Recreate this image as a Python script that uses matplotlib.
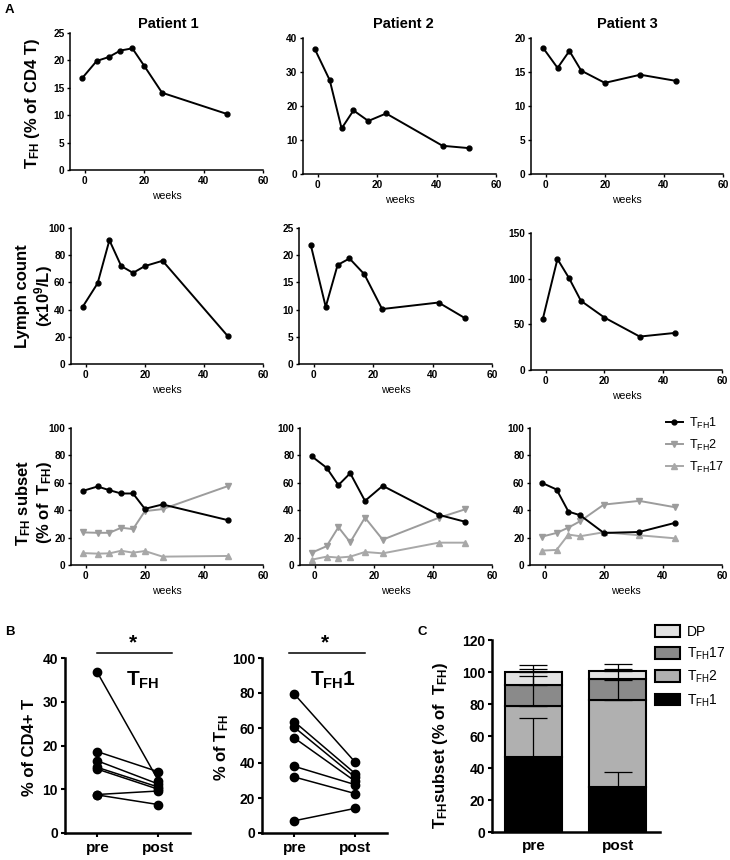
import matplotlib
matplotlib.use("Agg")
import matplotlib.pyplot as plt
import numpy as np

plt.rcParams['font.family'] = ['Liberation Sans', 'DejaVu Sans']
plt.rcParams['font.weight'] = 'bold'
plt.rcParams['mathtext.fontset'] = 'custom'
plt.rcParams['mathtext.rm'] = 'Liberation Sans:regular'
plt.rcParams['mathtext.bf'] = 'Liberation Sans:bold'
plt.rcParams['mathtext.it'] = 'Liberation Sans:italic'

# ---------------------------------------------------------------- data
P1_WEEKS = [-1, 4, 8, 12, 16, 20, 26, 48]
P2_WEEKS = [-1, 4, 8, 12, 17, 23, 42, 51]
P3_WEEKS = [-1, 4, 8, 12, 20, 32, 44]

P1_TFH = [16.7, 19.9, 20.6, 21.8, 22.2, 19.0, 14.1, 10.2]
P2_TFH = [36.7, 27.6, 13.4, 18.7, 15.6, 17.8, 8.3, 7.6]
P3_TFH = [18.6, 15.6, 18.1, 15.2, 13.4, 14.6, 13.7]

P1_LYMPH = [42.2, 59.3, 91.0, 72.0, 67.0, 72.0, 75.9, 20.7]
P2_LYMPH = [21.8, 10.5, 18.2, 19.4, 16.5, 10.1, 11.3, 8.4]
P3_LYMPH = [55.6, 121.5, 100.3, 75.7, 57.4, 36.6, 40.6]

P1_TFH1 = [54.1, 57.3, 54.6, 52.2, 52.2, 41.0, 44.2, 32.8]
P1_TFH2 = [23.8, 23.5, 23.5, 27.2, 26.2, 39.3, 40.8, 57.5]
P1_TFH17 = [8.7, 8.3, 8.5, 10.4, 9.0, 10.2, 6.1, 6.6]

P2_TFH1 = [79.3, 71.0, 58.3, 67.0, 46.8, 57.8, 36.6, 31.5]
P2_TFH2 = [9.0, 13.7, 27.6, 16.6, 34.6, 18.5, 34.5, 40.7]
P2_TFH17 = [3.9, 6.1, 5.4, 6.1, 9.5, 8.5, 16.3, 16.3]

P3_TFH1 = [60.0, 55.1, 39.0, 36.3, 23.4, 24.1, 30.7]
P3_TFH2 = [20.7, 23.4, 27.3, 32.0, 44.1, 46.8, 42.2]
P3_TFH17 = [10.5, 11.0, 22.2, 21.0, 23.9, 21.7, 19.5]

B_GROUPS = ['pre', 'post']
B_TFH_PRE = [36.7, 18.6, 16.5, 15.0, 14.6, 8.8, 8.7]
B_TFH_POST = [12.0, 14.0, 11.2, 10.5, 10.0, 9.6, 6.5]
B_TFH1_PRE = [79.4, 63.6, 60.4, 54.3, 38.1, 32.0, 7.0]
B_TFH1_POST = [40.4, 33.9, 31.8, 29.5, 27.6, 22.5, 14.1]

C_GROUPS = ['pre', 'post']
C_TFH1 = [47.0, 28.2]
C_TFH2 = [31.7, 54.3]
C_TFH17 = [13.3, 12.9]
C_DP = [8.0, 5.2]
C_TFH1_SD = [24.4, 9.0]
C_TFH2_SD = [19.0, 12.5]
C_TFH17_SD = [9.9, 6.5]
C_DP_SD = [4.2, 4.2]

W, H = 730, 860
fig = plt.figure(figsize=(W / 100, H / 100), dpi=100)
fig.patch.set_facecolor("white")


def px_axes(l, t, r, b):
    return fig.add_axes([l / W, 1 - b / H, (r - l) / W, (b - t) / H])


def style_time(ax, ymax, ystep):
    ax.set_xlim(-5, 60)
    ax.set_xticks([0, 20, 40, 60])
    ax.set_ylim(0, ymax)
    ax.set_yticks(np.arange(0, ymax + 0.1, ystep))
    for s in ('top', 'right'):
        ax.spines[s].set_visible(False)
    for s in ('left', 'bottom'):
        ax.spines[s].set_linewidth(1.1)
    ax.tick_params(labelsize=7.3, length=2.5, width=1.0, pad=1.5)
    ax.set_xlabel('weeks', fontsize=7.5, labelpad=4)


def line(ax, x, y, color='black', marker='o', ms=3.5, label=None):
    ax.plot(x, y, color=color, marker=marker, ms=ms, lw=1.4,
            mec=color, mfc=color, label=label, clip_on=False)


weeks = [P1_WEEKS, P2_WEEKS, P3_WEEKS]

# row 1 : TFH % of CD4 T
row1 = [px_axes(70, 33, 263, 170), px_axes(303, 38, 496, 174),
        px_axes(531, 38, 723, 174)]
for ax, x, y, ym, st in zip(row1, weeks, [P1_TFH, P2_TFH, P3_TFH],
                            [25, 40, 20], [5, 10, 5]):
    line(ax, x, y)
    style_time(ax, ym, st)

# row 2 : lymph count
row2 = [px_axes(71, 228, 263, 364), px_axes(299, 228, 492, 364),
        px_axes(531, 233, 722, 370)]
for ax, x, y, ym, st in zip(row2, weeks, [P1_LYMPH, P2_LYMPH, P3_LYMPH],
                            [100, 25, 150], [20, 5, 50]):
    line(ax, x, y)
    style_time(ax, ym, st)

# row 3 : subsets
row3 = [px_axes(71, 428, 263, 565), px_axes(300, 428, 492, 565),
        px_axes(530, 428, 722, 565)]
subsets = [(P1_TFH1, P1_TFH2, P1_TFH17), (P2_TFH1, P2_TFH2, P2_TFH17),
           (P3_TFH1, P3_TFH2, P3_TFH17)]
for ax, x, (s1, s2, s17) in zip(row3, weeks, subsets):
    line(ax, x, s2, color='#9c9c9c', marker='v', ms=4,
         label=r'$\mathrm{T_{FH}2}$')
    line(ax, x, s17, color='#a8a8a8', marker='^', ms=4,
         label=r'$\mathrm{T_{FH}17}$')
    line(ax, x, s1, color='black', marker='o', ms=3.5,
         label=r'$\mathrm{T_{FH}1}$')
    style_time(ax, 100, 20)

h, l = row3[2].get_legend_handles_labels()
row3[2].legend([h[2], h[0], h[1]], [l[2], l[0], l[1]], loc='upper left',
               bbox_to_anchor=(0.71, 1.09), frameon=False,
               prop={'size': 9, 'weight': 'normal'},
               handlelength=1.3, handletextpad=0.5, labelspacing=0.55,
               borderpad=0, borderaxespad=0)

for x, name in zip([168, 403, 627], ['Patient 1', 'Patient 2', 'Patient 3']):
    fig.text(x / W, 1 - 24 / H, name, ha='center', va='center', fontsize=10.5)

fig.text(33 / W, 1 - 104 / H, r'$\mathbf{T_{FH}}$ (% of CD4 T)', rotation=90,
         ha='center', va='center', fontsize=12)
fig.text(35 / W, 1 - 296 / H, 'Lymph count\n(x10$^\\mathbf{9}$/L)', rotation=90,
         ha='center', va='center', fontsize=12, linespacing=1.1)
fig.text(34 / W, 1 - 503 / H, 'T$_\\mathbf{FH}$ subset\n(% of  T$_\\mathbf{FH}$)',
         rotation=90, ha='center', va='center', fontsize=12, linespacing=1.1)

fig.text(5 / W, 1 - 10 / H, 'A', ha='left', va='center', fontsize=9.5)
fig.text(5 / W, 1 - 632 / H, 'B', ha='left', va='center', fontsize=9.5)
fig.text(417 / W, 1 - 632 / H, 'C', ha='left', va='center', fontsize=9.5)


# panel B : paired pre/post
def style_b(ax, ymax, ystep):
    ax.set_xlim(-0.53, 1.52)
    ax.set_xticks([0, 1])
    ax.set_xticklabels(B_GROUPS)
    ax.set_ylim(0, ymax)
    ax.set_yticks(np.arange(0, ymax + 0.1, ystep))
    for s in ('top', 'right'):
        ax.spines[s].set_visible(False)
    for s in ('left', 'bottom'):
        ax.spines[s].set_linewidth(1.8)
    ax.tick_params(axis='y', labelsize=10, length=3, width=1.5, pad=2)
    ax.tick_params(axis='x', labelsize=11, length=3, width=1.5, pad=3)


b1 = px_axes(65, 658, 190, 833)
b2 = px_axes(262, 658, 387, 833)
for ax, pre, post in [(b1, B_TFH_PRE, B_TFH_POST), (b2, B_TFH1_PRE, B_TFH1_POST)]:
    for a, b in zip(pre, post):
        ax.plot([0, 1], [a, b], color='black', lw=1.1, marker='o', ms=6,
                clip_on=False)
style_b(b1, 40, 10)
style_b(b2, 100, 20)

for ax, x0, x1, xs, lab, lx in [(b1, 0.256, 0.856, 0.54, r'$\mathbf{T_{FH}}$', 0.62),
                                (b2, 0.216, 0.824, 0.50, r'$\mathbf{T_{FH}1}$', 0.57)]:
    ax.plot([x0, x1], [1.03, 1.03], transform=ax.transAxes, color='black',
            lw=1.1, clip_on=False)
    ax.text(xs, 1.085, '*', transform=ax.transAxes, ha='center', va='center',
            fontsize=15)
    ax.text(lx, 0.875, lab, transform=ax.transAxes, ha='center', va='center',
            fontsize=15)

fig.text(29 / W, 1 - 747 / H, '% of CD4+ T', rotation=90, ha='center',
         va='center', fontsize=12)
fig.text(222 / W, 1 - 748 / H, r'% of $\mathbf{T_{FH}}$', rotation=90,
         ha='center', va='center', fontsize=12)

# panel C : stacked bars
c = px_axes(492, 640, 660, 832)
xc = np.arange(len(C_GROUPS))
layers = [(C_TFH1, C_TFH1_SD, 'black', r'$\mathrm{T_{FH}1}$'),
          (C_TFH2, C_TFH2_SD, '#b0b0b0', r'$\mathrm{T_{FH}2}$'),
          (C_TFH17, C_TFH17_SD, '#8a8a8a', r'$\mathrm{T_{FH}17}$'),
          (C_DP, C_DP_SD, '#e2e2e2', 'DP')]
bottom = np.zeros(len(C_GROUPS))
bars = []
for vals, sd, col, lab in layers:
    vals = np.array(vals)
    bars.append(c.bar(xc, vals, 0.68, bottom=bottom, color=col,
                      edgecolor='black', linewidth=1.5, label=lab, zorder=2))
    top = bottom + vals
    c.errorbar(xc, top, yerr=[np.zeros(len(sd)), sd], fmt='none',
               ecolor='black', elinewidth=0.9, capsize=10, capthick=0.9,
               zorder=3)
    bottom = top

c.set_xlim(-0.49, 1.5)
c.set_xticks(xc)
c.set_xticklabels(C_GROUPS)
c.set_ylim(0, 120)
c.set_yticks(np.arange(0, 121, 20))
for s in ('top', 'right'):
    c.spines[s].set_visible(False)
for s in ('left', 'bottom'):
    c.spines[s].set_linewidth(1.8)
c.tick_params(axis='y', labelsize=10, length=3, width=1.5, pad=2)
c.tick_params(axis='x', labelsize=11, length=0, pad=5)
c.legend(bars[::-1], [b.get_label() for b in bars[::-1]], loc='upper left',
         bbox_to_anchor=(0.97, 1.08), frameon=False,
         prop={'size': 10, 'weight': 'normal'},
         handlelength=1.8, handleheight=0.9, handletextpad=0.5,
         labelspacing=0.5, borderpad=0, borderaxespad=0)
fig.text(440 / W, 1 - 745 / H,
         r'$\mathbf{T_{FH}}$subset (% of  $\mathbf{T_{FH}}$)', rotation=90,
         ha='center', va='center', fontsize=12)

fig.savefig("out.png", dpi=100)
